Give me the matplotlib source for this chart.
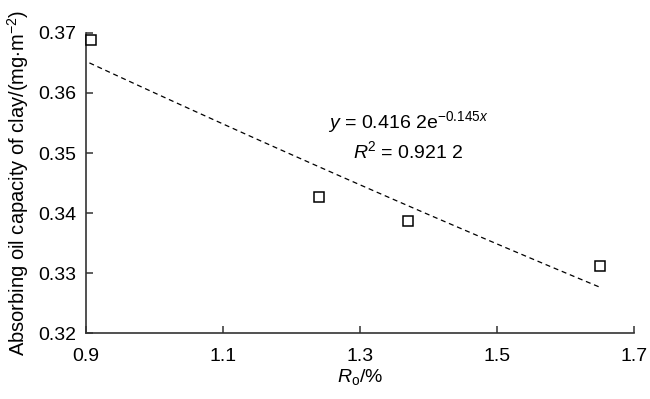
import numpy as np
import matplotlib

matplotlib.use("Agg")
import matplotlib.pyplot as plt

plt.rcParams["font.family"] = ["Liberation Sans", "DejaVu Sans"]
plt.rcParams["mathtext.fontset"] = "custom"
plt.rcParams["mathtext.rm"] = "Liberation Sans"
plt.rcParams["mathtext.it"] = "Liberation Sans:italic"

# measured points
ro = [0.907, 1.24, 1.37, 1.65]
oil_capacity = [0.3688, 0.3427, 0.3387, 0.3312]

# exponential fit printed on the chart
fit_a = 0.4162
fit_b = -0.145
fit_x_range = [0.905, 1.65]

x_ticks = [0.9, 1.1, 1.3, 1.5, 1.7]
y_ticks = [0.32, 0.33, 0.34, 0.35, 0.36, 0.37]

fig = plt.figure(figsize=(6.5, 3.99), dpi=100)
ax = fig.add_axes([0.1323, 0.1654, 0.8431, 0.7519])

fx = np.linspace(fit_x_range[0], fit_x_range[1], 50)
ax.plot(fx, fit_a * np.exp(fit_b * fx), color="black", linewidth=0.9,
        linestyle=(0, (4, 3)), zorder=2)
ax.plot(ro, oil_capacity, linestyle="none", marker="s", markersize=7,
        markerfacecolor="white", markeredgecolor="black", markeredgewidth=1.1,
        zorder=3, clip_on=False)

ax.set_xlim(0.9, 1.7)
ax.set_ylim(0.32, 0.37)
ax.set_xticks(x_ticks)
ax.set_yticks(y_ticks)
ax.set_xticklabels([f"{v:.1f}" for v in x_ticks])
ax.set_yticklabels([f"{v:.2f}" for v in y_ticks])

for side in ("top", "right"):
    ax.spines[side].set_visible(False)
for side in ("left", "bottom"):
    ax.spines[side].set_color("#333333")
    ax.spines[side].set_linewidth(1.2)
ax.tick_params(direction="in", length=5, width=1.1, color="#333333",
               labelsize=14)
ax.tick_params(axis="x", pad=11)
ax.tick_params(axis="y", pad=7)

ax.set_xlabel(r"$R_\mathrm{o}$/%", fontsize=14, labelpad=1)
ax.set_ylabel(r"Absorbing oil capacity of clay/(mg$\cdot$m$^{-2}$)", fontsize=14.5, labelpad=5)

ax.text(1.37, 0.3551, r"$y$ = 0.416 2e$^{-0.145x}$", fontsize=14, ha="center", va="center")
ax.text(1.37, 0.3503, r"$R$$^2$ = 0.921 2", fontsize=14, ha="center", va="center")

fig.savefig("out.png", dpi=100)
plt.close(fig)
